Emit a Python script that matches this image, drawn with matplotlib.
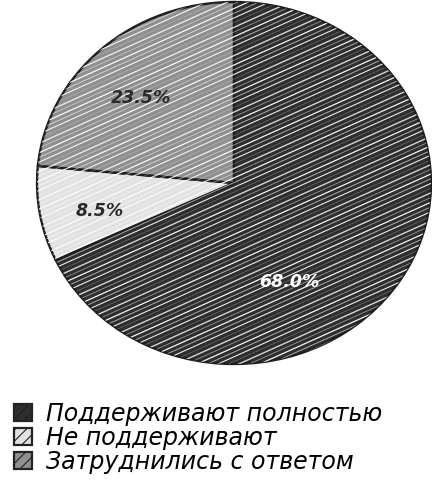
import numpy as np
import matplotlib.pyplot as plt
from matplotlib.patches import Patch
from matplotlib.collections import LineCollection

labels = ["Поддерживают полностью", "Не поддерживают", "Затруднились с ответом"]
shares = [68.0, 8.5, 23.5]
colors = ["#2f2d2d", "#e2e2e2", "#8f8f8f"]
label_colors = ["white", "#2a2a2a", "#2a2a2a"]

plt.rcParams['hatch.linewidth'] = 0.8
plt.rcParams['hatch.color'] = 'white'

fig = plt.figure(figsize=(4.32, 4.94), dpi=100)
# ellipse-shaped pie: axes without equal aspect
ax = fig.add_axes([37 / 432, (494 - 364) / 494, 394 / 432, 362 / 494])

wedges, _ = ax.pie(shares, colors=colors, startangle=90, counterclock=False,
                   wedgeprops=dict(linewidth=0))

# sketchy white strokes, clipped to each slice
slope = 0.49
offsets = np.arange(-2.0, 2.0, 0.026)
alphas = [0.95, 0.5, 0.8, 0.3, 0.9, 0.6]
widths = [0.9, 0.6, 1.0, 0.5, 0.8, 0.7]
for w in wedges:
    segs = [[(-1.1, b - 1.1 * slope), (1.1, b + 1.1 * slope)] for b in offsets]
    lc = LineCollection(segs, colors="white",
                        linewidths=[widths[i % len(widths)] for i in range(len(segs))])
    lc.set_alpha([alphas[i % len(alphas)] for i in range(len(segs))])
    ax.add_collection(lc)
    lc.set_clip_path(w)

# black outlines on top
ax.pie(shares, startangle=90, counterclock=False,
       wedgeprops=dict(edgecolor="#1e1e1e", linewidth=1.7, fill=False))
ax.set_aspect("auto")
ax.set_xlim(-1, 1)
ax.set_ylim(-1, 1)

# percentage labels
label_pos = [(0.28, -0.545), (-0.68, -0.155), (-0.47, 0.47)]
for val, (x, y), c in zip(shares, label_pos, label_colors):
    ax.text(x, y, f"{val:.1f}%", color=c, fontsize=12.5, fontweight="bold",
            fontstyle="italic", ha="center", va="center")

handles = [Patch(facecolor=c, edgecolor="#222222", linewidth=1.6, hatch="///")
           for c in colors]
fig.legend(handles, labels, loc="upper left", bbox_to_anchor=(0.0, 0.215),
           frameon=False, prop=dict(size=17, style="italic"),
           handlelength=0.75, handleheight=0.75, handletextpad=0.6,
           labelspacing=0.0, borderaxespad=0.2)

fig.savefig("out.png", dpi=100)
